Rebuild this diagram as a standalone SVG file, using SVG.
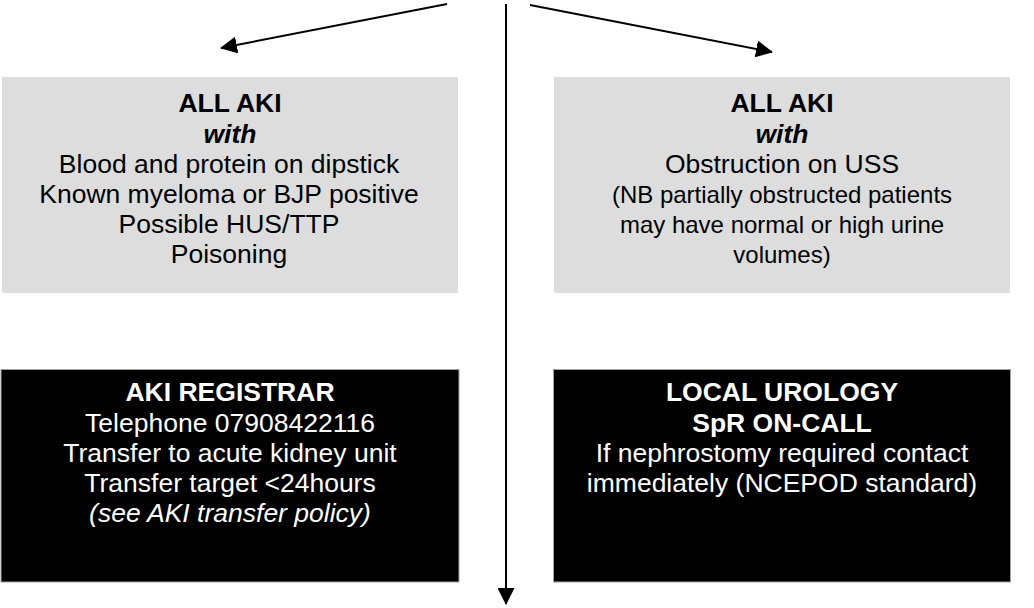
<svg xmlns="http://www.w3.org/2000/svg" width="1034" height="608" viewBox="0 0 1034 608">
<style>
text{font-family:"Liberation Sans",Arial,sans-serif;font-size:26.5px;text-anchor:middle}
.g{fill:#dddddd}
.k{fill:#000000;stroke:#a0a0a0;stroke-width:1}
.dt{fill:#000000}
.wt{fill:#ffffff}
.b{font-weight:bold}
.i{font-style:italic}
.s{font-size:24px}
.c{stroke:#000;stroke-width:2;fill:none}
</style>
<defs>
<marker id="ah" markerUnits="userSpaceOnUse" markerWidth="17" markerHeight="17" viewBox="0 0 17 17" refX="16" refY="8.5" orient="auto">
<path d="M0,0 L17,8.5 L0,17 Z" fill="#000"/>
</marker>
</defs>
<rect width="1034" height="608" fill="#ffffff"/>
<g id="connectors">
<line class="c" x1="447" y1="4" x2="221" y2="48" marker-end="url(#ah)"/>
<line class="c" x1="530" y1="5" x2="772" y2="52" marker-end="url(#ah)"/>
<line class="c" x1="506" y1="4" x2="506" y2="604" marker-end="url(#ah)"/>
</g>
<g id="node-aki-left">
<rect class="g" x="2" y="77" width="456" height="216"/>
<text class="dt b" x="230" y="112">ALL AKI</text>
<text class="dt b i" x="230" y="143">with</text>
<text class="dt" x="229" y="173">Blood and protein on dipstick</text>
<text class="dt" x="229" y="203">Known myeloma or BJP positive</text>
<text class="dt" x="229" y="233">Possible HUS/TTP</text>
<text class="dt" x="229" y="263">Poisoning</text>
</g>
<g id="node-aki-right">
<rect class="g" x="554" y="77" width="456" height="216"/>
<text class="dt b" x="782" y="112">ALL AKI</text>
<text class="dt b i" x="782" y="143">with</text>
<text class="dt" x="782" y="173">Obstruction on USS</text>
<text class="dt s" x="782" y="203">(NB partially obstructed patients</text>
<text class="dt s" x="782" y="233">may have normal or high urine</text>
<text class="dt s" x="782" y="263">volumes)</text>
</g>
<g id="node-registrar">
<rect class="k" x="1" y="369.5" width="458" height="212.5"/>
<text class="wt b" x="230" y="401">AKI REGISTRAR</text>
<text class="wt" x="230" y="432">Telephone 07908422116</text>
<text class="wt" x="230" y="462">Transfer to acute kidney unit</text>
<text class="wt" x="230" y="492">Transfer target &lt;24hours</text>
<text class="wt i" x="230" y="522">(see AKI transfer policy)</text>
</g>
<g id="node-urology">
<rect class="k" x="553.5" y="369.5" width="457" height="212.5"/>
<text class="wt b" x="782" y="401">LOCAL UROLOGY</text>
<text class="wt b" x="782" y="432">SpR ON-CALL</text>
<text class="wt" x="782" y="462">If nephrostomy required contact</text>
<text class="wt" x="782" y="492">immediately (NCEPOD standard)</text>
</g>
</svg>
